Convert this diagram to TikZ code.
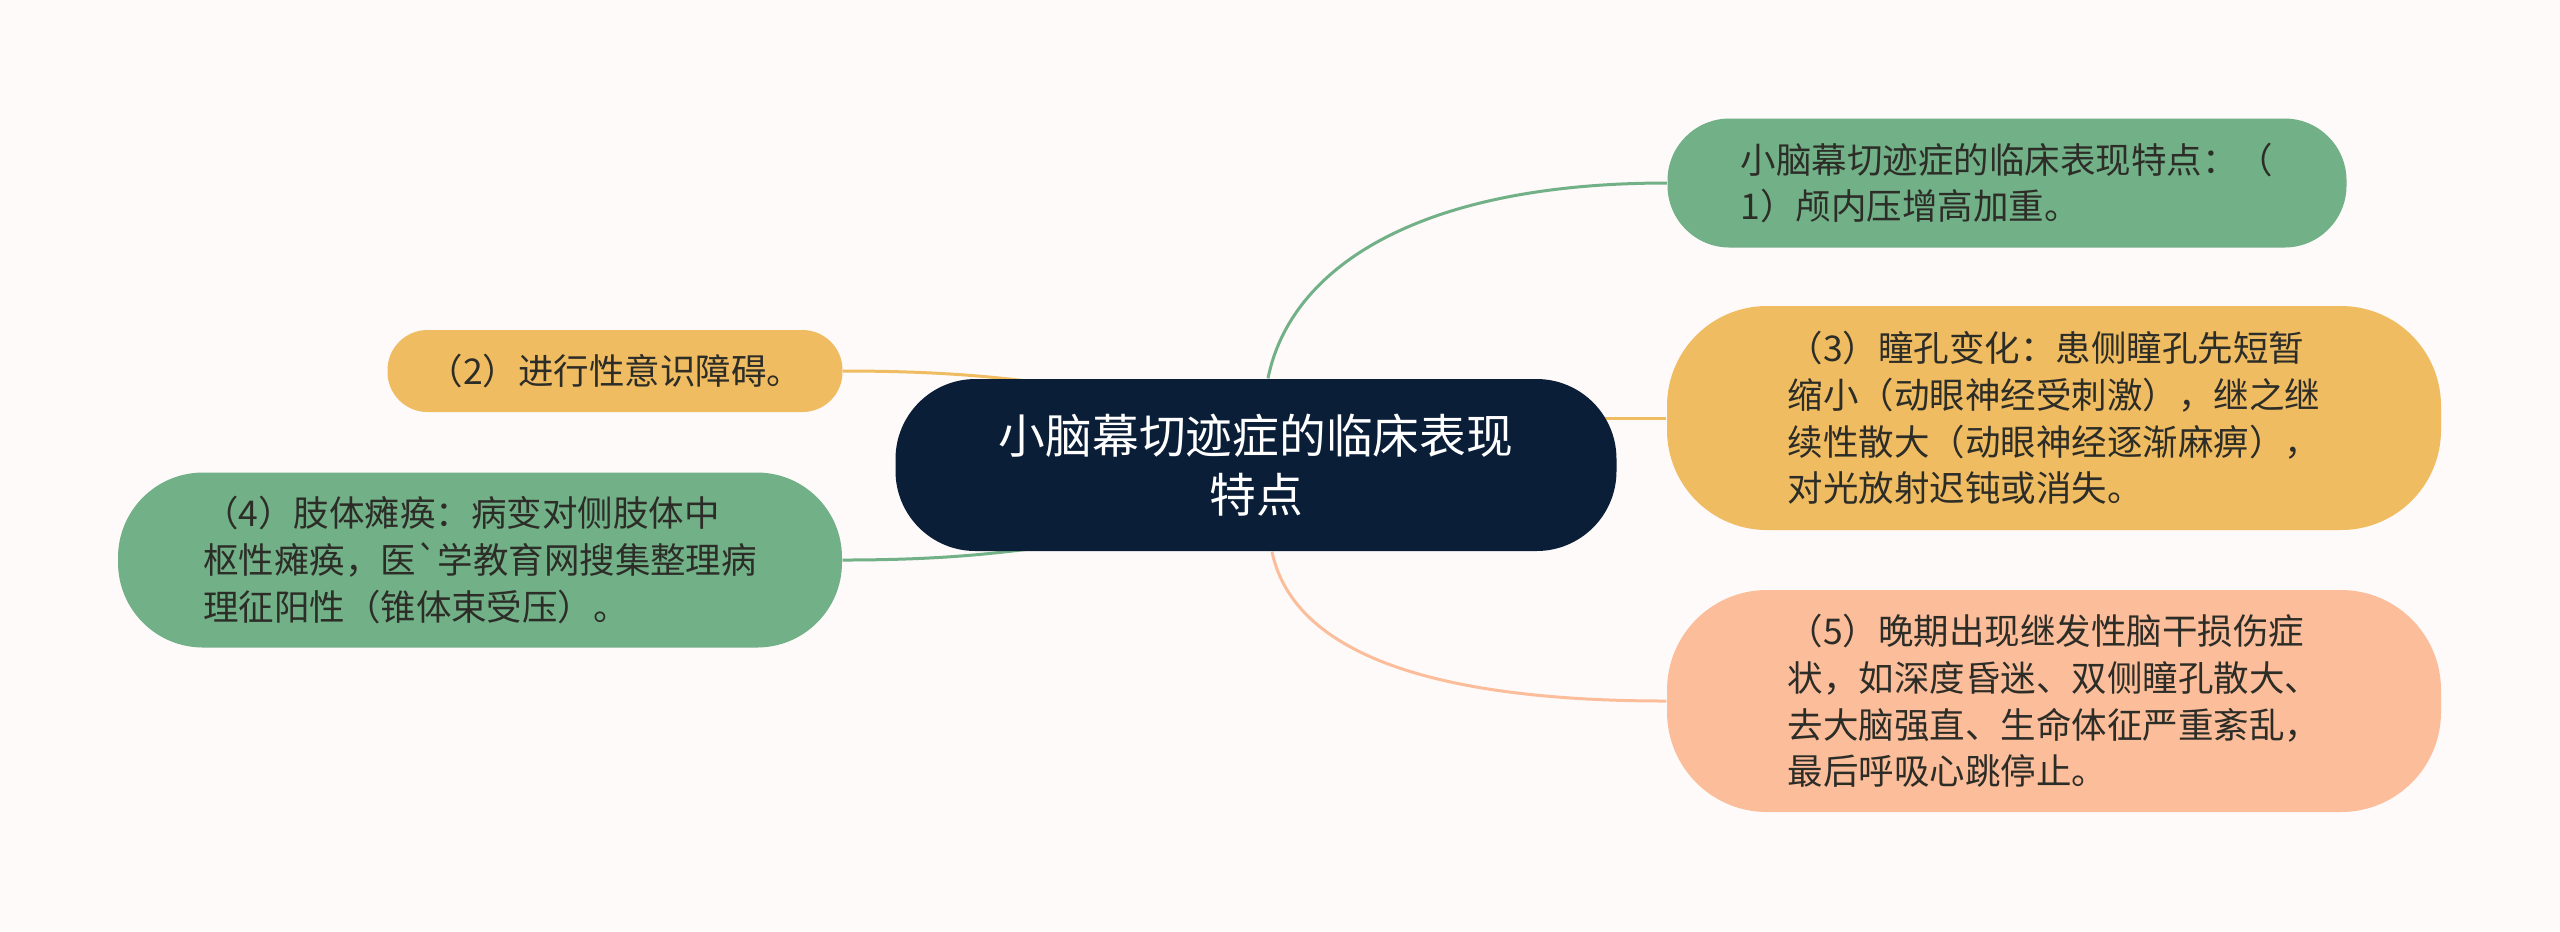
\documentclass[tikz,border=0pt]{standalone}
\usepackage{fontspec}
\setmainfont{Noto Sans CJK SC}
\usepackage{tikz}
\usetikzlibrary{backgrounds}

\definecolor{paper}{RGB}{253,250,249}
\definecolor{navy}{RGB}{11,30,56}
\definecolor{leafgreen}{RGB}{114,176,136}
\definecolor{leaforange}{RGB}{240,188,98}
\definecolor{leafpeach}{RGB}{252,189,154}
\definecolor{ink}{RGB}{45,45,40}

\tikzset{
  leaf/.style={rectangle, inner sep=0pt, align=left, text=ink, font=\fontsize{10.1pt}{13.3pt}\selectfont},
  branch/.style={draw=#1, line width=0.03cm},
}

\begin{document}
\begin{tikzpicture}
\useasboundingbox (0, 0) rectangle (25.6, -9.31);
\node (root) at (12.56, -4.65) [fill=navy, rounded corners=0.8cm, minimum width=7.21cm, minimum height=1.72cm, align=center, text=white, font=\fontsize{13.3pt}{17pt}\selectfont] {小脑幕切迹症的临床表现\\特点};
\node (p1) at (20.07, -1.83) [leaf, fill=leafgreen, rounded corners=0.62cm, minimum width=6.79cm, minimum height=1.29cm] {小脑幕切迹症的临床表现特点：（\\1）颅内压增高加重。};
\node (p2) at (6.15, -3.71) [leaf, fill=leaforange, rounded corners=0.4cm, minimum width=4.55cm, minimum height=0.82cm] {（2）进行性意识障碍。};
\node (p3) at (20.54, -4.18) [leaf, fill=leaforange, rounded corners=1.0cm, minimum width=7.74cm, minimum height=2.24cm] {（3）瞳孔变化：患侧瞳孔先短暂\\缩小（动眼神经受刺激），继之继\\续性散大（动眼神经逐渐麻痹），\\对光放射迟钝或消失。};
\node (p4) at (4.80, -5.60) [leaf, fill=leafgreen, rounded corners=0.85cm, minimum width=7.24cm, minimum height=1.75cm] {（4）肢体瘫痪：病变对侧肢体中\\枢性瘫痪，医\textasciigrave 学教育网搜集整理病\\理征阳性（锥体束受压）。};
\node (p5) at (20.54, -7.01) [leaf, fill=leafpeach, rounded corners=1.0cm, minimum width=7.74cm, minimum height=2.22cm] {（5）晚期出现继发性脑干损伤症\\状，如深度昏迷、双侧瞳孔散大、\\去大脑强直、生命体征严重紊乱，\\最后呼吸心跳停止。};

\begin{scope}[on background layer]
\fill[paper] (0, 0) rectangle (25.6, -9.31);
\draw[branch=leafgreen] ([xshift=1.2mm]root.north) .. controls +(0.22, 1.1) and +(-2.5, 0) .. (p1.west);
\draw[branch=leaforange] (p3.west) -- (p3.west -| root.center);
\draw[branch=leafpeach] ([xshift=1.6mm]root.south) .. controls +(0.2, -0.95) and +(-2.5, 0) .. (p5.west);
\draw[branch=leaforange] (p2.east) .. controls +(1.4, 0) and +(-0.6, 0.03) .. ([xshift=-1.7cm, yshift=-0.08cm]root.north);
\draw[branch=leafgreen] (p4.east) .. controls +(1.4, 0) and +(-0.6, -0.03) .. ([xshift=-1.7cm, yshift=0.08cm]root.south);
\end{scope}
\end{tikzpicture}
\end{document}
